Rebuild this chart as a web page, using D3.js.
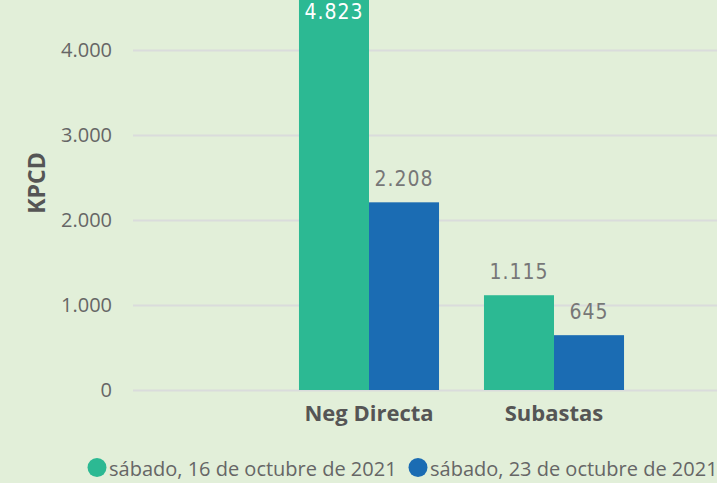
<!DOCTYPE html>
<html>
<head>
<meta charset="utf-8">
<script src="https://cdn.jsdelivr.net/npm/d3@7"></script>
<style>
  html, body { margin: 0; padding: 0; background: #e2efd9; }
  svg { display: block; }
</style>
</head>
<body>
<div id="chart"></div>
<script>
const categories = ['Neg Directa', 'Subastas'];
const seriesNames = ['sábado, 16 de octubre de 2021', 'sábado, 23 de octubre de 2021'];
const seriesValues = [
  [4823, 1115],
  [2208, 645]
];
const yTicks = [0, 1000, 2000, 3000, 4000];
const colors = ['#2cb993', '#1b6cb3'];

const W = 717, H = 483;
const svg = d3.select('#chart').append('svg')
  .attr('width', W).attr('height', H);

svg.append('rect').attr('width', W).attr('height', H).attr('fill', '#e2efd9');

const fmt = v => d3.format(',')(v).replace(/,/g, '.');
const sans = '"Open Sans", sans-serif';
const narrow = '"Liberation Sans Narrow", "DejaVu Sans Condensed", sans-serif';

const y = d3.scaleLinear().domain([0, 4000]).range([390, 50]);
const x0 = d3.scaleBand().domain(categories).range([276.5, 646.5])
  .paddingInner(0.243).paddingOuter(0.1215);
const x1 = d3.scaleBand().domain(d3.range(seriesNames.length)).range([0, x0.bandwidth()]);

// gridlines + y tick labels
const yAxis = svg.append('g').attr('transform', 'translate(133,0)')
  .call(d3.axisLeft(y).tickValues(yTicks).tickSize(-(W - 133)).tickPadding(21).tickFormat(fmt));
yAxis.select('.domain').remove();
yAxis.selectAll('line').attr('stroke', '#dadcdc').attr('stroke-width', 2);
yAxis.selectAll('text').attr('fill', '#666').attr('font-size', 20)
  .attr('font-family', sans);

// axis title
svg.append('text')
  .attr('transform', 'translate(37,183) rotate(-90)')
  .attr('text-anchor', 'middle')
  .attr('dy', '0.35em')
  .attr('fill', '#555').attr('font-size', 23).attr('font-weight', 'bold')
  .attr('font-family', sans)
  .text('KPCD');

// bars
const groups = svg.append('g').selectAll('g')
  .data(categories).join('g')
  .attr('transform', d => `translate(${x0(d)},0)`);

const cells = (d, ci) => seriesValues.map((s, si) => ({ si, v: s[ci] }));

groups.selectAll('rect')
  .data(cells)
  .join('rect')
  .attr('x', d => x1(d.si))
  .attr('width', x1.bandwidth())
  .attr('y', d => y(d.v))
  .attr('height', d => y(0) - y(d.v))
  .attr('fill', d => colors[d.si]);

// data labels (inside the bar when it runs off the top)
groups.selectAll('text.lbl')
  .data(cells)
  .join('text')
  .attr('class', 'lbl')
  .attr('x', d => x1(d.si) + x1.bandwidth() / 2)
  .attr('y', d => y(d.v) < 20 ? 19 : y(d.v) - 16)
  .attr('text-anchor', 'middle')
  .attr('fill', d => y(d.v) < 20 ? '#ffffff' : '#777')
  .attr('font-size', 21)
  .attr('letter-spacing', 1)
  .attr('font-family', narrow)
  .text(d => fmt(d.v));

// category labels
const xAxis = svg.append('g').attr('transform', 'translate(0,390)')
  .call(d3.axisBottom(x0).tickSize(0).tickPadding(0));
xAxis.select('.domain').remove();
xAxis.selectAll('text').attr('dy', null).attr('y', 31)
  .attr('fill', '#555').attr('font-size', 22).attr('font-weight', 'bold')
  .attr('font-family', sans);

// legend
const legendX = [97, 418];
const legend = svg.append('g').selectAll('g')
  .data(seriesNames).join('g')
  .attr('transform', (d, i) => `translate(${legendX[i]},467.5)`);
legend.append('circle').attr('r', 9.5).attr('fill', (d, i) => colors[i]);
legend.append('text').attr('x', 12).attr('y', 8.5)
  .attr('fill', '#666').attr('font-size', 20)
  .attr('font-family', sans)
  .text(d => d);
</script>
</body>
</html>
